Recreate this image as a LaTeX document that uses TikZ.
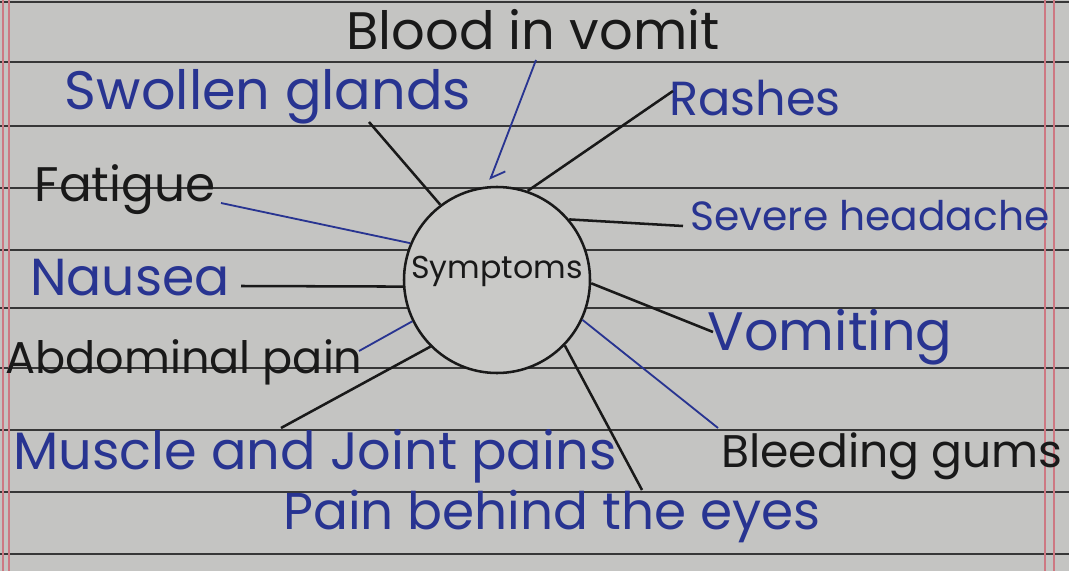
\documentclass[tikz,border=0pt]{standalone}
\usepackage{fontspec}
\setmainfont{Poppins}
\usetikzlibrary{arrows.meta}
\definecolor{paper}{RGB}{196,196,194}
\definecolor{rule}{RGB}{55,55,55}
\definecolor{margin}{RGB}{205,120,130}
\definecolor{blueink}{RGB}{40,52,145}
\definecolor{blackink}{RGB}{25,25,25}
\begin{document}
\begin{tikzpicture}[x=0.025cm, y=-0.025cm,
  lbl/.style={inner sep=0pt, anchor=center},
  sz/.style={font=\fontsize{#1}{#1}\selectfont},
  blu/.style={lbl, text=blueink},
  blk/.style={lbl, text=blackink},
  bline/.style={draw=blueink, line width=1.3pt},
  kline/.style={draw=blackink, line width=1.8pt}
]
% paper and ruling
\fill[paper] (0,0) rectangle (1069,571);
\useasboundingbox (0,0) rectangle (1069,571);
\foreach \y in {2,62,126,188,250,308,368,430,492,554}
  \draw[rule, line width=1.1pt] (0,\y) -- (1069,\y);
\foreach \x in {3,9,1045,1054}
  \draw[margin, line width=0.8pt] (\x,0) -- (\x,571);

% centre
\node[circle, draw=blackink, line width=1.8pt, fill=paper!92!white,
      minimum size=186*0.025cm, inner sep=0pt] (sym) at (497,280) {};
\node[blk, sz=22.5] (symtxt) at (497,271) {Symptoms};

% labels
\node[blk, sz=37.5] (blood)    at (533,30)  {Blood in vomit};
\node[blu, sz=38.5] (swollen)  at (268,97)  {Swollen glands};
\node[blu, sz=34]   (rashes)   at (755,98)  {Rashes};
\node[blk, sz=34.5] (fatigue)  at (125,190) {Fatigue};
\node[blu, sz=29]   (headache) at (870,216) {Severe headache};
\node[blu, sz=37]   (nausea)   at (130,278) {Nausea};
\node[blu, sz=38.5] (vomiting) at (830,337) {Vomiting};
\node[blk, sz=31.7] (abdo)     at (184,362) {Abdominal pain};
\node[blu, sz=37.4] (muscle)   at (315,456) {Muscle and Joint pains};
\node[blk, sz=32.5] (gums)     at (892,456) {Bleeding gums};
\node[blu, sz=36.8] (eyes)     at (552,516) {Pain behind the eyes};

% free ends of the spokes
\coordinate (blood-a)    at (536,60);
\coordinate (blood-b)    at (490,180);
\coordinate (swollen-a)  at (369,122);
\coordinate (rashes-a)   at (673,91);
\coordinate (fatigue-a)  at (221,203);
\coordinate (headache-a) at (683,226);
\coordinate (nausea-a)   at (241,286);
\coordinate (vomiting-a) at (713,332);
\coordinate (abdo-a)     at (359,351);
\coordinate (muscle-a)   at (281,428);
\coordinate (gums-a)     at (718,428);
\coordinate (eyes-a)     at (642,490);

% spokes
\draw[bline, -{Straight Barb[left, length=8pt]}] (blood-a) -- (blood-b);
\draw[kline] (swollen-a)  -- (sym.127);
\draw[kline] (rashes-a)   -- (sym.71);
\draw[bline] (fatigue-a)  -- (sym.157);
\draw[kline] (headache-a) -- (sym.40);
\draw[kline] (nausea-a)   -- (sym.184);
\draw[kline] (vomiting-a) -- (sym.-2);
\draw[bline] (abdo-a)     -- (sym.206);
\draw[kline] (muscle-a)   -- (sym.225);
\draw[bline] (gums-a)     -- (sym.-25);
\draw[kline] (eyes-a)     -- (sym.-44);
\end{tikzpicture}
\end{document}
